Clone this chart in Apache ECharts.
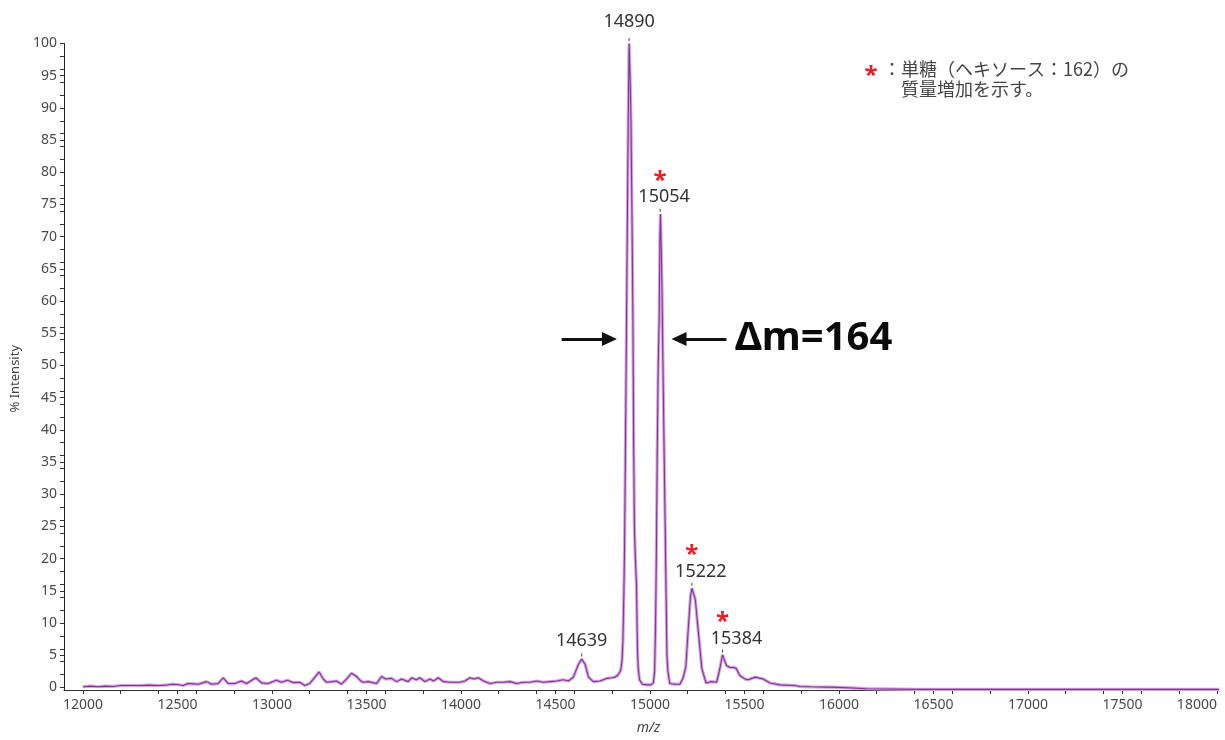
<!DOCTYPE html>
<html>
<head>
<meta charset="utf-8">
<script src="https://cdn.jsdelivr.net/npm/echarts@6/dist/echarts.min.js"></script>
<style>
html,body{margin:0;padding:0;background:#fff;}
#chart{width:1225px;height:740px;}
</style>
</head>
<body>
<div id="chart"></div>
<script>
// ---- data ----
const mz = [
12000,12040,12080,12120,12160,12200,12250,12300,12350,12400,12440,12470,12500,12530,12557,12585,12610,12654,12681,12716,
12742,12769,12804,12839,12866,12915,12945,12980,13024,13051,13082,13112,13148,13174,13200,13222,13250,13272,13290,13320,
13342,13368,13395,13421,13448,13470,13483,13510,13554,13580,13603,13633,13660,13686,13721,13739,13765,13783,13810,13836,
13855,13880,13907,13942,13995,14021,14048,14070,14092,14119,14154,14189,14225,14260,14295,14331,14366,14401,14437,14472,
14507,14542,14569,14595,14622,14639,14657,14675,14701,14736,14771,14800,14815,14830,14845,14852,14857,14862,14866,14870,
14875,14880,14885,14890,14895,14900,14905,14910,14914,14918,14923,14929,14934,14938,14945,14960,14985,15005,15018,15025,
15030,15034,15039,15044,15049,15053,15056,15060,15064,15070,15076,15081,15086,15090,15095,15105,15130,15159,15176,15190,
15204,15215,15222,15240,15260,15275,15297,15326,15353,15370,15384,15405,15423,15440,15455,15476,15503,15521,15556,15600,
15635,15688,15767,15794,15850,15935,16000,16150,16400,16800,17200,17600,18010
];
const intensity = [
0.1,0.2,0.1,0.2,0.15,0.3,0.3,0.3,0.35,0.3,0.35,0.5,0.45,0.3,0.6,0.55,0.5,0.9,0.5,0.6,
1.5,0.6,0.6,1.0,0.6,1.5,0.7,0.6,1.1,0.8,1.1,0.75,0.8,0.3,0.6,1.4,2.4,1.3,0.8,0.9,
1.0,0.5,1.3,2.2,1.7,1.0,0.8,0.9,0.6,1.7,1.3,1.4,0.9,1.3,0.9,1.5,1.2,1.5,0.9,1.3,
1.0,1.5,0.9,0.8,0.8,1.0,1.5,1.3,1.5,1.0,0.6,0.8,0.8,0.9,0.6,0.8,0.8,1.0,0.8,0.9,
1.0,1.2,1.0,1.6,3.6,4.4,3.6,1.6,0.9,1.0,1.4,1.5,1.6,1.9,2.6,4,7,14,22,35,
52,70,87,100,95,88,74,58,38,25,20,16,6,3,1.2,0.5,0.4,0.4,0.7,2.5,
10,20,37,50,57,70,73.5,68,62,48,35,24.6,14,5,2.5,0.6,0.5,0.5,1.5,3.2,
9.6,14.2,15.4,13.7,7.5,2.9,0.7,0.9,0.8,2.9,5.05,3.4,3.1,3.1,3.0,1.85,1.3,1.2,1.6,1.3,
0.7,0.4,0.3,0.15,0.1,0.05,0.0,-0.2,-0.3,-0.3,-0.3,-0.3,-0.3
];
const peakMz = [14639, 14890, 15054, 15222, 15384];
const peakIntensity = [4.4, 100, 73.5, 15.4, 5.05];
const peakLabels = ['14639', '14890', '15054', '15222', '15384'];
const hexoseMz = [15054, 15222, 15384];
const hexoseIntensity = [73.5, 15.4, 5.05];
const xTickLabels = [12000,12500,13000,13500,14000,14500,15000,15500,16000,16500,17000,17500,18000];
const yTickLabels = [0,5,10,15,20,25,30,35,40,45,50,55,60,65,70,75,80,85,90,95,100];
const deltaText = 'Δm=164';
const legendLine1 = '：単糖（ヘキソース：162）の';
const legendLine2 = '質量増加を示す。';

// ---- build ----
const xTicks = [];
for (let v = 12000; v <= 18000; v += 100) { if (v % 200 === 0 || v % 500 === 0) xTicks.push(v); }
const yTicks = [];
for (let v = 0; v <= 100; v += 1) { if (v % 2 === 0 || v % 5 === 0) yTicks.push(v); }

const spectrum = mz.map((m, i) => [m, intensity[i]]);
const labelOffsets = [[0,-14],[0,-17.5],[4,-13],[9,-12],[14,-12]];
const peakData = peakMz.map((m, i) => ({
  value: [m, peakIntensity[i]],
  name: peakLabels[i],
  label: { offset: labelOffsets[i] }
}));
const starData = hexoseMz.map((m, i) => [m, hexoseIntensity[i]]);

const chart = echarts.init(document.getElementById('chart'), null, {renderer: 'canvas'});
const font = 'Noto Sans';
const option = {
  backgroundColor: '#ffffff',
  animation: false,
  grid: { left: 64, right: 6.2, top: 43.5, bottom: 49.4, containLabel: false },
  xAxis: {
    type: 'value', min: 11900, max: 18010,
    name: 'm/z', nameLocation: 'middle', nameGap: 31,
    nameTextStyle: { fontFamily: font, fontSize: 14, fontStyle: 'italic', color: '#444', padding: [0,0,0,14] },
    axisLine: { show: true, onZero: false, lineStyle: { color: '#333', width: 1 } },
    axisTick: { show: true, length: 4, customValues: xTicks, lineStyle: { color: '#333' } },
    axisLabel: { customValues: xTickLabels, formatter: v => String(v), margin: 8, fontFamily: font, fontSize: 14, color: '#4a4a4a', alignMaxLabel: 'right' },
    splitLine: { show: false }
  },
  yAxis: {
    type: 'value', min: -0.4, max: 100,
    name: '% Intensity', nameLocation: 'middle', nameGap: 41, nameRotate: 90,
    nameTextStyle: { fontFamily: font, fontSize: 13, color: '#444', padding: [0, 24, 0, 0] },
    axisLine: { show: true, onZero: false, lineStyle: { color: '#222', width: 1 } },
    axisTick: { show: true, length: 4, customValues: yTicks, lineStyle: { color: '#333' } },
    axisLabel: { customValues: yTickLabels, formatter: v => String(v), margin: 7, fontFamily: font, fontSize: 14, color: '#4a4a4a' },
    splitLine: { show: false }
  },
  series: [
    {
      name: 'halo', type: 'line', data: spectrum, showSymbol: false, symbol: 'none', silent: true,
      lineStyle: { color: '#d3a5dc', width: 3.2 }, clip: false, z: 2
    },
    {
      name: 'spectrum', type: 'line', data: spectrum, showSymbol: false, symbol: 'none', silent: true,
      lineStyle: { color: '#85339a', width: 1.1 }, clip: false, z: 3,
      markLine: {
        silent: true, symbol: ['none', 'triangle'], symbolSize: [14, 15],
        label: { show: false },
        lineStyle: { color: '#111', width: 3, type: 'solid' },
        itemStyle: { color: '#111' },
        data: [
          [{ coord: [14533, 54.1] }, { coord: [14786, 54.1] }],
          [{ coord: [15405, 54.1] }, { coord: [15154, 54.1] }]
        ]
      }
    },
    {
      name: 'peaks', type: 'scatter', data: peakData, symbol: 'rect', symbolSize: [1, 3], symbolOffset: [0, -4],
      itemStyle: { color: '#444', opacity: 1 }, clip: false, silent: true, z: 5,
      label: { show: true, position: 'inside', formatter: p => p.name, fontFamily: font, fontSize: 18, color: '#333', opacity: 1 }
    },
    {
      name: 'hexose', type: 'scatter', data: starData, symbolSize: 0, clip: false, silent: true, z: 5,
      itemStyle: { opacity: 1 },
      label: { show: true, position: 'inside', offset: [0, -33], formatter: '*', fontFamily: font, fontWeight: 'bold', fontSize: 24, color: '#ee1c25', opacity: 1 }
    },
    {
      name: 'delta', type: 'scatter', data: [[15450, 54.1]], symbolSize: 0, clip: false, silent: true, z: 5,
      itemStyle: { opacity: 1 },
      label: { show: true, position: 'right', distance: 0, formatter: deltaText, fontFamily: font, fontWeight: 'bold', fontSize: 40, color: '#0a0a0a', opacity: 1 }
    }
  ],
  graphic: [
    { type: 'text', x: 871, y: 76.5, style: { text: '*', fontFamily: font, fontWeight: 'bold', fontSize: 24, fill: '#ee1c25', align: 'center', verticalAlign: 'middle' } },
    { type: 'text', x: 883, y: 69.5, style: { text: legendLine1, fontFamily: 'Noto Sans CJK JP', fontSize: 18, fill: '#444', align: 'left', verticalAlign: 'middle' } },
    { type: 'text', x: 901, y: 89, style: { text: legendLine2, fontFamily: 'Noto Sans CJK JP', fontSize: 18, fill: '#444', align: 'left', verticalAlign: 'middle' } }
  ]
};
chart.setOption(option);
</script>
</body>
</html>
